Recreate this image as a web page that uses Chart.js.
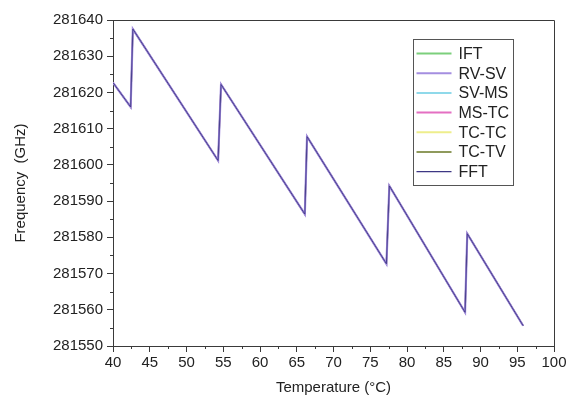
<!DOCTYPE html>
<html>
<head>
<meta charset="utf-8">
<script src="https://cdn.jsdelivr.net/npm/chart.js@4.4.1/dist/chart.umd.min.js"></script>
<style>
  html, body { margin: 0; padding: 0; background: #fff; }
  #wrap { width: 570px; height: 401px; }
</style>
</head>
<body>
<div id="wrap"><canvas id="freqChart"></canvas></div>
<script>
// values (all series overlap almost exactly)
const temperature = [40, 42.4, 42.7, 54.3, 54.7, 66.1, 66.4, 77.2, 77.6, 87.9, 88.2, 95.8]
const frequency = [281622.7, 281616, 281637.5, 281601.2, 281622.2, 281586.4, 281607.8, 281572.7, 281594.2, 281559.3, 281581, 281555.6]

const seriesNames = ['IFT', 'RV-SV', 'SV-MS', 'MS-TC', 'TC-TC', 'TC-TV', 'FFT']
const seriesColors = ['#7ccf7c', '#a48ee0', '#8fd9ea', '#e46fc2', '#eeee8c', '#8f9a5c', '#3d3784']
const seriesOrder = [5, 1, 4, 2, 6, 3, 0]

const xTicks = [40, 45, 50, 55, 60, 65, 70, 75, 80, 85, 90, 95, 100]
const yTicks = [281550, 281560, 281570, 281580, 281590, 281600, 281610, 281620, 281630, 281640]

const FONT = "'Liberation Sans', Arial, sans-serif"
const AXIS = '#3a3a3a'

const datasets = seriesNames.map((name, i) => ({
  label: name,
  data: temperature.map((t, k) => ({ x: t, y: frequency[k] })),
  borderColor: seriesColors[i],
  borderWidth: name === 'FFT' ? 0.9 : (name === 'RV-SV' ? 2.2 : 1.4),
  pointRadius: 0,
  showLine: true,
  fill: false,
  tension: 0,
  order: seriesOrder[i]
}))

// minor ticks, closed frame and the boxed legend inside the plot
const framePlugin = {
  id: 'frame',
  afterDraw (chart) {
    const c = chart.ctx
    const a = chart.chartArea
    const xs = chart.scales.x
    const ys = chart.scales.y
    c.save()
    c.strokeStyle = AXIS
    c.lineWidth = 1
    c.beginPath()
    c.moveTo(a.left, a.top + 0.5)
    c.lineTo(a.right + 0.5, a.top + 0.5)
    c.lineTo(a.right + 0.5, a.bottom)
    c.stroke()

    c.beginPath()
    for (let i = 0; i < xTicks.length - 1; i++) {
      const px = Math.round(xs.getPixelForValue((xTicks[i] + xTicks[i + 1]) / 2)) + 0.5
      c.moveTo(px, a.bottom)
      c.lineTo(px, a.bottom + 3)
    }
    for (let i = 0; i < yTicks.length - 1; i++) {
      const py = Math.round(ys.getPixelForValue((yTicks[i] + yTicks[i + 1]) / 2)) + 0.5
      c.moveTo(a.left, py)
      c.lineTo(a.left - 3, py)
    }
    c.stroke()

    // legend box
    const bx = 413.5
    const by = 39.5
    const bw = 100
    const bh = 146
    c.strokeStyle = '#555'
    c.strokeRect(bx, by, bw, bh)
    c.font = '16px ' + FONT
    c.textBaseline = 'middle'
    c.fillStyle = '#222'
    seriesNames.forEach((name, i) => {
      const y = by + 14 + i * 19.7
      c.strokeStyle = seriesColors[i]
      c.lineWidth = name === 'FFT' ? 1.2 : 2
      c.beginPath()
      c.moveTo(bx + 3, y)
      c.lineTo(bx + 38, y)
      c.stroke()
      c.fillText(name, bx + 45, y + 1)
    })
    c.restore()
  }
}

new Chart(document.getElementById('freqChart'), {
  type: 'scatter',
  data: { datasets },
  plugins: [framePlugin],
  options: {
    responsive: true,
    maintainAspectRatio: false,
    animation: false,
    layout: { padding: { top: 20, right: 16, left: 2, bottom: 0 } },
    plugins: {
      legend: { display: false },
      tooltip: { enabled: false }
    },
    scales: {
      x: {
        type: 'linear',
        min: 40,
        max: 100,
        afterBuildTicks: scale => { scale.ticks = xTicks.map(v => ({ value: v })) },
        afterFit: scale => { scale.height = 55 },
        ticks: {
          color: '#222',
          font: { family: FONT, size: 15 },
          padding: 2,
          maxRotation: 0,
          callback: v => String(v)
        },
        grid: { drawOnChartArea: false, tickLength: 6, color: AXIS },
        border: { color: AXIS, width: 1 },
        title: {
          display: true,
          text: 'Temperature (°C)',
          color: '#222',
          font: { family: FONT, size: 15 },
          padding: { top: 3 }
        }
      },
      y: {
        type: 'linear',
        min: 281550,
        max: 281640,
        afterBuildTicks: scale => { scale.ticks = yTicks.map(v => ({ value: v })) },
        afterFit: scale => { scale.width = 111 },
        ticks: {
          color: '#222',
          font: { family: FONT, size: 15 },
          padding: 4,
          callback: v => String(v)
        },
        grid: { drawOnChartArea: false, tickLength: 6, color: AXIS },
        border: { color: AXIS, width: 1 },
        title: {
          display: true,
          text: 'Frequency  (GHz)',
          color: '#222',
          font: { family: FONT, size: 15 },
          padding: { top: 10 }
        }
      }
    }
  }
})
</script>
</body>
</html>
